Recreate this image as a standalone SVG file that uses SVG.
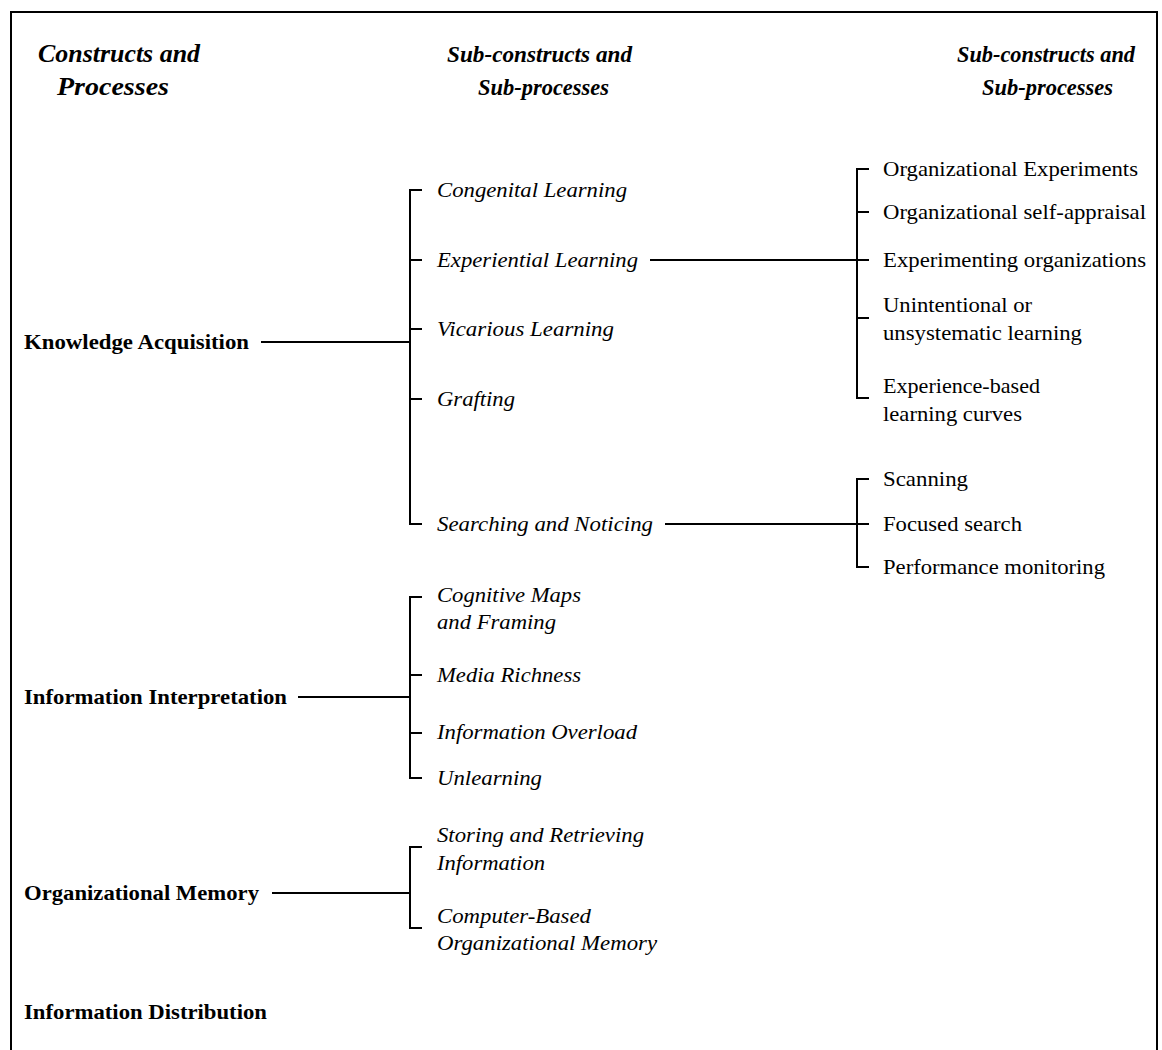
<svg xmlns="http://www.w3.org/2000/svg" width="1162" height="1050" viewBox="0 0 1162 1050">
<style>
text{font-family:"Liberation Serif","Times New Roman",serif;fill:#000}
.h{font-size:23px;font-weight:bold;font-style:italic}
.h1{font-size:25px;font-weight:bold;font-style:italic}
.l1{font-size:21px;font-weight:bold}
.l2{font-size:21px;font-style:italic}
.l3{font-size:21px}
.ln{stroke:#000;stroke-width:2;fill:none}
</style>
<rect width="1162" height="1050" fill="#fff"/>
<g id="frame"><path class="ln" d="M11,1050 V12 H1157 V1050"/></g>
<g id="headers">
<text class="h1" x="38" y="62" textLength="162" lengthAdjust="spacingAndGlyphs">Constructs and</text>
<text class="h1" x="57" y="95" textLength="112" lengthAdjust="spacingAndGlyphs">Processes</text>
<text class="h" x="447" y="62" textLength="185" lengthAdjust="spacingAndGlyphs">Sub-constructs and</text>
<text class="h" x="478" y="95" textLength="131" lengthAdjust="spacingAndGlyphs">Sub-processes</text>
<text class="h" x="957" y="62" textLength="178" lengthAdjust="spacingAndGlyphs">Sub-constructs and</text>
<text class="h" x="982" y="95" textLength="131" lengthAdjust="spacingAndGlyphs">Sub-processes</text>
</g>
<g id="connectors">
<path class="ln" d="M261,342 H410 M422,190 H410 V524 H422 M410,260 H422 M410,329 H422 M410,399 H422"/>
<path class="ln" d="M650,260 H869 M869,169 H857 V398 H869 M857,212 H869 M857,318 H869"/>
<path class="ln" d="M665,524 H869 M869,479 H857 V567 H869"/>
<path class="ln" d="M298,697 H410 M422,597 H410 V778 H422 M410,675 H422 M410,733 H422"/>
<path class="ln" d="M272,893 H410 M422,847 H410 V928 H422"/>
</g>
<g id="n-knowledge-acquisition"><text class="l1" x="24" y="349" textLength="225" lengthAdjust="spacingAndGlyphs">Knowledge Acquisition</text></g>
<g id="n-information-interpretation"><text class="l1" x="24" y="704" textLength="263" lengthAdjust="spacingAndGlyphs">Information Interpretation</text></g>
<g id="n-organizational-memory"><text class="l1" x="24" y="900" textLength="235" lengthAdjust="spacingAndGlyphs">Organizational Memory</text></g>
<g id="n-information-distribution"><text class="l1" x="24" y="1019" textLength="243" lengthAdjust="spacingAndGlyphs">Information Distribution</text></g>
<g id="n-congenital"><text class="l2" x="437" y="197" textLength="190" lengthAdjust="spacingAndGlyphs">Congenital Learning</text></g>
<g id="n-experiential"><text class="l2" x="437" y="267" textLength="201" lengthAdjust="spacingAndGlyphs">Experiential Learning</text></g>
<g id="n-vicarious"><text class="l2" x="437" y="336" textLength="177" lengthAdjust="spacingAndGlyphs">Vicarious Learning</text></g>
<g id="n-grafting"><text class="l2" x="437" y="406" textLength="78" lengthAdjust="spacingAndGlyphs">Grafting</text></g>
<g id="n-searching"><text class="l2" x="437" y="531" textLength="216" lengthAdjust="spacingAndGlyphs">Searching and Noticing</text></g>
<g id="n-cognitive"><text class="l2" x="437" y="602" textLength="144" lengthAdjust="spacingAndGlyphs">Cognitive Maps</text><text class="l2" x="437" y="629" textLength="119" lengthAdjust="spacingAndGlyphs">and Framing</text></g>
<g id="n-media"><text class="l2" x="437" y="682" textLength="144" lengthAdjust="spacingAndGlyphs">Media Richness</text></g>
<g id="n-overload"><text class="l2" x="437" y="739" textLength="200" lengthAdjust="spacingAndGlyphs">Information Overload</text></g>
<g id="n-unlearning"><text class="l2" x="437" y="785" textLength="105" lengthAdjust="spacingAndGlyphs">Unlearning</text></g>
<g id="n-storing"><text class="l2" x="437" y="842" textLength="207" lengthAdjust="spacingAndGlyphs">Storing and Retrieving</text><text class="l2" x="437" y="870" textLength="108" lengthAdjust="spacingAndGlyphs">Information</text></g>
<g id="n-computer"><text class="l2" x="437" y="923" textLength="154" lengthAdjust="spacingAndGlyphs">Computer-Based</text><text class="l2" x="437" y="950" textLength="220" lengthAdjust="spacingAndGlyphs">Organizational Memory</text></g>
<g id="n-org-experiments"><text class="l3" x="883" y="176" textLength="255" lengthAdjust="spacingAndGlyphs">Organizational Experiments</text></g>
<g id="n-self-appraisal"><text class="l3" x="883" y="219" textLength="263" lengthAdjust="spacingAndGlyphs">Organizational self-appraisal</text></g>
<g id="n-experimenting"><text class="l3" x="883" y="267" textLength="263" lengthAdjust="spacingAndGlyphs">Experimenting organizations</text></g>
<g id="n-unintentional"><text class="l3" x="883" y="312" textLength="149" lengthAdjust="spacingAndGlyphs">Unintentional or</text><text class="l3" x="883" y="340" textLength="199" lengthAdjust="spacingAndGlyphs">unsystematic learning</text></g>
<g id="n-experience-based"><text class="l3" x="883" y="393" textLength="157" lengthAdjust="spacingAndGlyphs">Experience-based</text><text class="l3" x="883" y="421" textLength="139" lengthAdjust="spacingAndGlyphs">learning curves</text></g>
<g id="n-scanning"><text class="l3" x="883" y="486" textLength="85" lengthAdjust="spacingAndGlyphs">Scanning</text></g>
<g id="n-focused"><text class="l3" x="883" y="531" textLength="139" lengthAdjust="spacingAndGlyphs">Focused search</text></g>
<g id="n-performance"><text class="l3" x="883" y="574" textLength="222" lengthAdjust="spacingAndGlyphs">Performance monitoring</text></g>
</svg>
